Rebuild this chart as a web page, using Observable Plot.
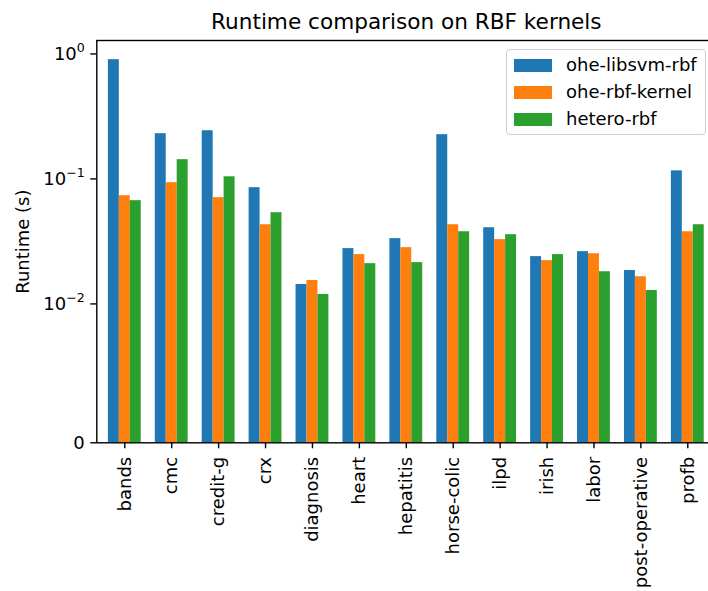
<!DOCTYPE html>
<html>
<head>
<meta charset="utf-8">
<script src="https://cdn.jsdelivr.net/npm/d3@7"></script>
<script src="https://cdn.jsdelivr.net/npm/@observablehq/plot@0.6"></script>
<style>
  body { margin: 0; background: #fff; font-family: "DejaVu Sans", sans-serif; }
  #wrap { position: relative; width: 708px; height: 591px; overflow: hidden; }
  #wrap svg { max-width: none !important; display: block; }
  .legend {
    position: absolute; left: 505.5px; top: 49px; width: 200px; height: 86px;
    box-sizing: border-box; border: 1px solid #d0d0d0; border-radius: 4px;
    background: rgba(255,255,255,0.8);
  }
  .legend .item { position: absolute; left: 0; height: 13px; }
  .legend .sw { position: absolute; left: 7px; top: 0; width: 38.5px; height: 13px; }
  .legend .lab { position: absolute; left: 59.5px; top: 6.5px; transform: translateY(-50%);
    font-size: 18px; line-height: 1; white-space: nowrap; color: #000; }
</style>
</head>
<body>
<div id="wrap"></div>
<script>
// Runtime (seconds) per dataset for each RBF implementation
const datasets = ["bands", "cmc", "credit-g", "crx", "diagnosis", "heart", "hepatitis",
  "horse-colic", "ilpd", "irish", "labor", "post-operative", "profb"];
const series = ["ohe-libsvm-rbf", "ohe-rbf-kernel", "hetero-rbf"];
const oheLibsvmRbf = [0.90, 0.230, 0.243, 0.0851, 0.0143, 0.0277, 0.0333, 0.226, 0.0407, 0.0239, 0.0262, 0.0185, 0.116];
const oheRbfKernel = [0.0734, 0.0933, 0.0708, 0.0430, 0.0154, 0.0248, 0.0282, 0.0430, 0.0327, 0.0222, 0.0252, 0.0165, 0.0378];
const heteroRbf = [0.0670, 0.1426, 0.104, 0.0537, 0.0119, 0.0210, 0.0214, 0.0378, 0.0358, 0.0248, 0.0181, 0.0128, 0.0430];
const colors = ["#1f77b4", "#ff7f0e", "#2ca02c"];
const yTicks = [0, 0.01, 0.1, 1];

// Symmetric log transform: linear below 0.01, logarithmic above
const LINTHRESH = 0.01;
const LINSCALE = 1 / (1 - 1 / 10);
function symlog(v) {
  const a = Math.abs(v);
  return Math.sign(v) * (a <= LINTHRESH ? (a / LINTHRESH) * LINSCALE : LINSCALE + Math.log10(a / LINTHRESH));
}

const barWidth = 0.7 / 3;
const columns = [oheLibsvmRbf, oheRbfKernel, heteroRbf];
const rows = [];
columns.forEach((vals, k) => {
  vals.forEach((v, i) => {
    const center = i + (k - 1) * barWidth;
    rows.push({dataset: datasets[i], series: series[k], value: v,
      x1: center - barWidth / 2, x2: center + barWidth / 2});
  });
});

const maxT = d3.max(rows, d => symlog(d.value));
const yTop = maxT * 1.05;

function expLabel(v) {
  if (v === 0) return "0";
  const e = Math.round(Math.log10(v));
  return "10^" + (e < 0 ? "\u2212" + (-e) : String(e));
}

const chart = Plot.plot({
  width: 716,
  height: 591,
  marginLeft: 96.3,
  marginRight: 0.7,
  marginTop: 40,
  marginBottom: 148.7,
  style: {fontFamily: "DejaVu Sans, sans-serif", fontSize: "18px", color: "#000", background: "#fff", maxWidth: "none"},
  x: {type: "linear", domain: [-0.5968, 12.5968], axis: null},
  y: {type: "linear", transform: symlog, domain: [0, yTop], axis: null},
  color: {domain: series, range: colors},
  marks: [
    Plot.rect(rows, {x1: "x1", x2: "x2", y1: 0, y2: "value", fill: "series"}),
    Plot.frame({stroke: "#000", strokeWidth: 1.4}),
    Plot.axisY(yTicks, {tickSize: 6, tickPadding: 6, tickFormat: expLabel, strokeWidth: 1.4, label: null, fontSize: 18}),
    Plot.axisX(d3.range(datasets.length), {tickSize: 6, tickPadding: 8, tickRotate: -90,
      tickFormat: i => datasets[i], strokeWidth: 1.4, label: null, fontSize: 18}),
    Plot.text(["Runtime comparison on RBF kernels"], {text: d => d, frameAnchor: "top", dy: -12,
      lineAnchor: "bottom", fontSize: 21.6}),
    Plot.text(["Runtime (s)"], {text: d => d, frameAnchor: "left", rotate: -90, dx: -68,
      lineAnchor: "bottom", textAnchor: "middle", fontSize: 18})
  ]
});

// Render powers of ten with a raised exponent
chart.querySelectorAll('g[aria-label="y-axis tick label"] text').forEach(t => {
  const s = t.textContent;
  const p = s.indexOf("^");
  if (p < 0) return;
  t.textContent = s.slice(0, p);
  const sup = document.createElementNS("http://www.w3.org/2000/svg", "tspan");
  sup.setAttribute("font-size", "0.7em");
  sup.setAttribute("dy", "-0.6em");
  sup.textContent = s.slice(p + 1);
  t.appendChild(sup);
});

const wrap = document.getElementById("wrap");
wrap.appendChild(chart);

// Legend
const legend = document.createElement("div");
legend.className = "legend";
series.forEach((name, k) => {
  const item = document.createElement("div");
  item.className = "item";
  item.style.top = (8.7 + k * 27) + "px";
  const sw = document.createElement("div");
  sw.className = "sw";
  sw.style.background = colors[k];
  const lab = document.createElement("div");
  lab.className = "lab";
  lab.textContent = name;
  item.appendChild(sw);
  item.appendChild(lab);
  legend.appendChild(item);
});
wrap.appendChild(legend);
</script>
</body>
</html>
